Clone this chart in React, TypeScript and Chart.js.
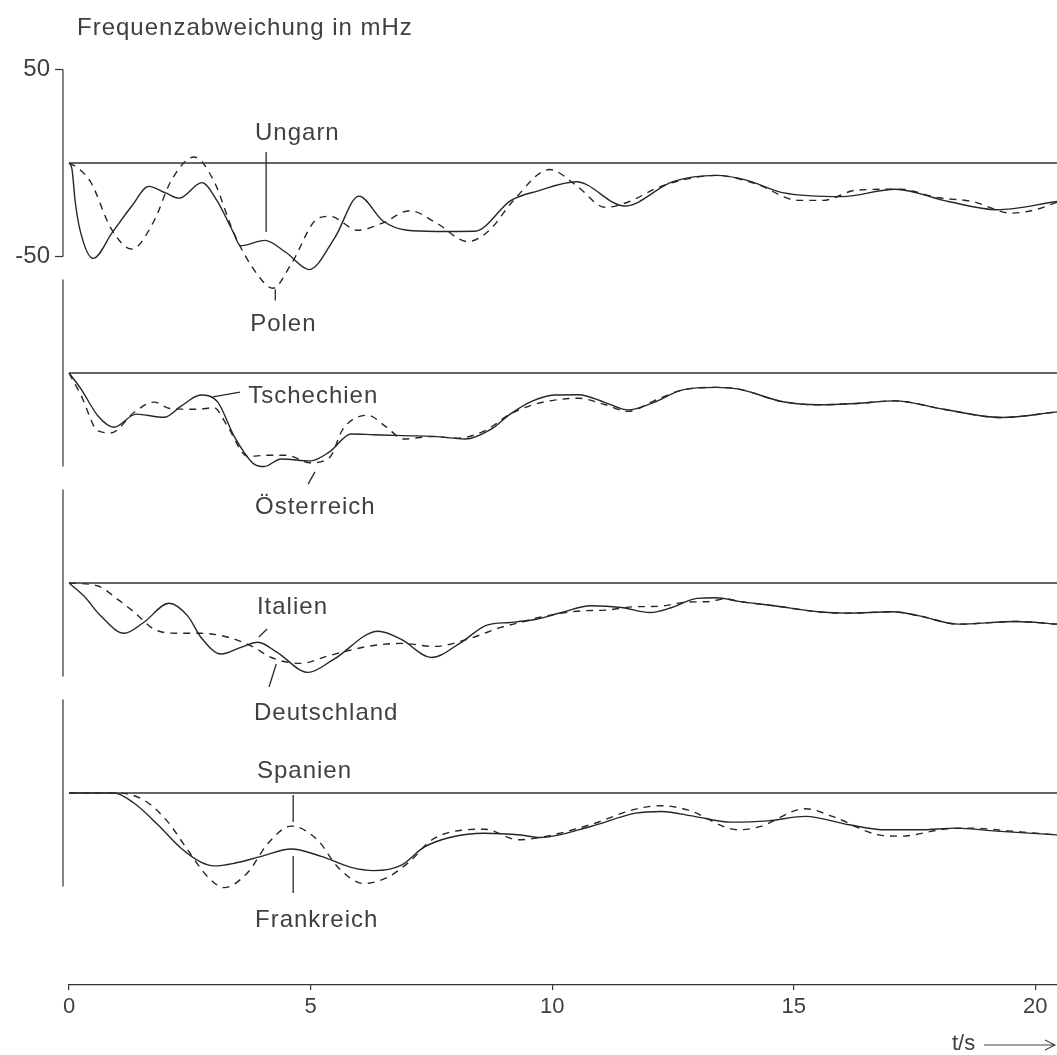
import React, { useEffect, useRef } from 'react';
import { Chart, registerables } from 'chart.js';

Chart.register(...registerables);

// ---------- data ----------
const T_MAX = 20.45;
const xTickValues = [0, 5, 10, 15, 20];
const yTickValues = [-50, 50];

// Panel 1
const ungarnT = [0, 0.06, 0.13, 0.23, 0.5, 0.9, 1.3, 1.65, 2.0, 2.28, 2.75, 3.06, 3.4, 3.55, 4.05, 4.5, 4.97, 5.5, 6.0, 6.5, 7.0, 7.6, 8.4, 9.15, 9.7, 10.5, 11.5, 12.5, 13.4, 14.0, 14.8, 16.0, 17.1, 18.2, 19.2, 20.45];
const ungarnV = [0, -3, -21, -36, -51, -37, -23, -12.5, -16, -18.8, -10.5, -20, -37, -44.3, -41.4, -48, -57, -40, -17.7, -31, -36, -36.6, -36.5, -20, -15, -10, -23, -10, -6.6, -9, -16, -18, -14, -20.6, -25, -20.6];
const polenT = [0, 0.2, 0.46, 0.87, 1.3, 1.76, 2.11, 2.59, 3.0, 3.42, 3.91, 4.22, 4.6, 5.15, 5.4, 5.98, 6.5, 7.05, 7.6, 8.25, 8.7, 9.2, 9.95, 10.5, 11.1, 11.6, 12.2, 12.8, 13.4, 14.2, 15.1, 15.6, 16.3, 17.2, 18.0, 18.7, 19.5, 20.0, 20.45];
const polenV = [0, -3, -10.7, -35, -46, -31, -9.7, 3.2, -9.7, -38, -60, -67, -54, -29.6, -28.5, -36, -32, -25.5, -32, -42, -36, -20, -3.5, -12, -23.7, -20.6, -13, -8.5, -6.6, -11, -20, -20, -14.5, -14, -18.6, -20.6, -26.8, -25, -21];

// Panel 2
const tschechienT = [0, 0.25, 0.6, 0.93, 1.39, 1.97, 2.32, 2.73, 3.08, 3.42, 3.83, 4.04, 4.39, 5.0, 5.4, 5.84, 6.3, 6.9, 7.56, 8.2, 8.74, 9.13, 9.6, 10.05, 10.55, 11.1, 11.57, 12.1, 12.7, 13.4, 13.86, 14.78, 15.5, 16.3, 17.1, 18.1, 19.3, 20.45];
const tschechienV = [0, -8.6, -23, -29, -22, -23.7, -17.7, -11.8, -15.6, -33.9, -48.7, -50, -46, -47, -42, -32.6, -33, -33.5, -33.9, -35.3, -30, -22, -14.9, -11.8, -11.6, -15.8, -19.7, -15.8, -9, -7.7, -8.6, -15.4, -17, -16.3, -14.9, -19.4, -23.8, -20.8];
const oesterreichT = [0, 0.25, 0.6, 0.87, 1.35, 1.76, 2.1, 2.67, 3.0, 3.27, 3.7, 4.1, 4.5, 5.0, 5.4, 5.67, 6.19, 6.55, 6.93, 7.5, 8.05, 8.6, 9.13, 9.6, 10.05, 10.55, 11.1, 11.57, 12.1, 12.7, 13.4, 13.86, 14.78, 15.5, 16.3, 17.1, 18.1, 19.3, 20.45];
const oesterreichV = [0, -12, -31, -32, -21, -15.6, -19, -19.4, -18.5, -28, -44.6, -44, -44, -48, -45, -30, -22.6, -28.5, -35.3, -34, -34.8, -31, -22, -17, -14.5, -13.5, -17, -20.5, -15, -9, -7.7, -8.6, -15.4, -17, -16.3, -14.9, -19.4, -23.8, -20.8];

// Panel 3
const italienT = [0, 0.31, 0.66, 1.14, 1.55, 2.07, 2.46, 2.73, 3.15, 3.56, 3.91, 4.3, 4.95, 5.47, 6.4, 6.87, 7.5, 8.12, 8.65, 9.13, 9.67, 10.2, 10.8, 11.43, 12.03, 12.48, 13.0, 13.4, 13.86, 14.6, 15.5, 16.1, 17.06, 17.6, 18.4, 19.6, 20.45];
const italienV = [0, -7, -17.7, -26.9, -21, -10.8, -17.7, -29, -38, -34.4, -31.7, -37, -47.8, -41, -25.8, -30, -39.8, -31.7, -22.5, -21.1, -19.4, -15.8, -12.2, -13.1, -15.8, -13.1, -8.2, -7.9, -9.8, -12.2, -15.4, -16.1, -15.4, -17.6, -22, -20.6, -22];
const deutschlandT = [0, 0.6, 1.0, 1.35, 1.76, 2.25, 2.73, 3.29, 3.83, 4.12, 4.45, 4.8, 5.36, 6.19, 6.87, 7.56, 8.26, 8.94, 9.36, 9.75, 10.6, 11.1, 11.7, 12.2, 12.8, 13.2, 13.6, 13.86, 14.6, 15.5, 16.1, 17.06, 17.6, 18.4, 19.6, 20.45];
const deutschlandV = [0, -1.6, -8.6, -15.6, -24.7, -26.9, -26.9, -29, -34.4, -39, -42, -43, -39, -33.9, -32.3, -33.9, -30, -23.7, -21, -18.3, -14.9, -14.5, -12.7, -12.5, -10.2, -10, -8.5, -9.8, -12.2, -15.4, -16.1, -15.4, -17.6, -22, -20.6, -22];

// Panel 4
const frankreichT = [0, 0.93, 1.35, 1.84, 2.32, 2.73, 3.0, 3.42, 3.98, 4.6, 5.22, 5.84, 6.31, 6.87, 7.35, 7.9, 8.6, 9.36, 9.75, 10.8, 11.73, 12.26, 12.94, 13.7, 14.47, 15.24, 16.15, 16.9, 17.6, 18.36, 19.2, 20.45];
const frankreichV = [0, 0, -5.5, -17, -29.6, -37, -39, -37.6, -33.9, -30, -33.9, -39.8, -41.5, -38.7, -29, -23.7, -21.5, -22.5, -23.8, -17.9, -10.8, -9.9, -12.5, -15.6, -14.9, -12.5, -17, -19.7, -19.7, -18.8, -20.4, -22.4];
const spanienT = [0, 1.0, 1.55, 2.05, 2.46, 2.88, 3.21, 3.7, 4.12, 4.6, 5.15, 5.57, 6.1, 6.6, 7.08, 7.5, 8.12, 8.6, 9.3, 9.75, 10.8, 11.73, 12.26, 12.8, 13.86, 14.3, 15.24, 15.8, 16.76, 17.2, 18.2, 18.7, 19.5, 20.45];
const spanienV = [0, 0, -3.8, -15.6, -30.6, -45, -50.6, -42.5, -26.9, -17.7, -25.3, -39.8, -48.4, -45, -36, -25.3, -19.9, -19.4, -25, -23.8, -16.9, -8.6, -6.8, -9, -19.7, -18, -8.4, -12.5, -22.4, -23.1, -19.1, -18.8, -20.4, -22.4];

const baselineT = [0, T_MAX];
const baselineV = [0, 0];

// labels (in data units of each panel)
const titleText = 'Frequenzabweichung in mHz';
const xUnitText = 't/s';
const labels = [
  { axis: 'y1', text: 'Ungarn', t: 3.85, v: 12.3 },
  { axis: 'y1', text: 'Polen', t: 3.75, v: -90 },
  { axis: 'y2', text: 'Tschechien', t: 3.71, v: -16 },
  { axis: 'y2', text: 'Österreich', t: 3.85, v: -75.4 },
  { axis: 'y3', text: 'Italien', t: 3.89, v: -16.6 },
  { axis: 'y3', text: 'Deutschland', t: 3.83, v: -73.3 },
  { axis: 'y4', text: 'Spanien', t: 3.89, v: 8 },
  { axis: 'y4', text: 'Frankreich', t: 3.85, v: -71.7 },
];
const pointers = [
  { axis: 'y1', t1: 4.08, v1: 5.9, t2: 4.08, v2: -36.9 },
  { axis: 'y1', t1: 4.27, v1: -67.5, t2: 4.27, v2: -73.5 },
  { axis: 'y2', t1: 2.98, v1: -12.8, t2: 3.54, v2: -10.2 },
  { axis: 'y2', t1: 4.95, v1: -59.4, t2: 5.09, v2: -52.9 },
  { axis: 'y3', t1: 3.93, v1: -28.9, t2: 4.1, v2: -24.6 },
  { axis: 'y3', t1: 4.14, v1: -55.6, t2: 4.29, v2: -43.3 },
  { axis: 'y4', t1: 4.64, v1: -1.1, t2: 4.64, v2: -15.5 },
  { axis: 'y4', t1: 4.64, v1: -33.7, t2: 4.64, v2: -53.5 },
];

const FONT = '"Liberation Sans", Arial, Helvetica, sans-serif';
const LINE = '#262626';
const TEXT = '#404040';

const pts = (T: number[], V: number[]) => T.map((t, i) => ({ x: t, y: V[i] }));

const curve = (label: string, T: number[], V: number[], axis: string, dashed: boolean) => ({
  label,
  data: pts(T, V),
  yAxisID: axis,
  borderColor: LINE,
  borderWidth: 1.4,
  borderDash: dashed ? [7, 6] : [],
  pointRadius: 0,
  fill: false,
  cubicInterpolationMode: 'monotone' as const,
  clip: false as const,
});

const base = (axis: string) => ({
  label: 'base-' + axis,
  data: pts(baselineT, baselineV),
  yAxisID: axis,
  borderColor: '#333',
  borderWidth: 1.3,
  pointRadius: 0,
  fill: false,
  clip: false as const,
});

const PANEL_MAX = 56.15;
const PANEL4_MIN = -102.7;

const annotPlugin = {
  id: 'annot',
  afterDraw(chart: any) {
    const ctx = chart.ctx as CanvasRenderingContext2D;
    const xs = chart.scales.x;
    const area = chart.chartArea;
    ctx.save();
    // vertical axis segments
    ctx.strokeStyle = '#333';
    ctx.lineWidth = 1.2;
    const ax = area.left - 6;
    ['y1', 'y2', 'y3', 'y4'].forEach((id) => {
      const s = chart.scales[id];
      ctx.beginPath();
      ctx.moveTo(ax, s.getPixelForValue(50));
      ctx.lineTo(ax, s.getPixelForValue(-50));
      ctx.stroke();
    });
    // tick marks of first panel
    yTickValues.forEach((v) => {
      const y = chart.scales.y1.getPixelForValue(v);
      ctx.beginPath();
      ctx.moveTo(ax - 8, y);
      ctx.lineTo(ax, y);
      ctx.stroke();
    });
    // pointers
    ctx.strokeStyle = '#2a2a2a';
    ctx.lineWidth = 1.3;
    pointers.forEach((p) => {
      const s = chart.scales[p.axis];
      ctx.beginPath();
      ctx.moveTo(xs.getPixelForValue(p.t1), s.getPixelForValue(p.v1));
      ctx.lineTo(xs.getPixelForValue(p.t2), s.getPixelForValue(p.v2));
      ctx.stroke();
    });
    // labels
    ctx.fillStyle = TEXT;
    ctx.font = `24px ${FONT}`;
    (ctx as any).letterSpacing = '1px';
    ctx.textAlign = 'left';
    ctx.textBaseline = 'alphabetic';
    labels.forEach((l) => {
      const s = chart.scales[l.axis];
      ctx.fillText(l.text, xs.getPixelForValue(l.t), s.getPixelForValue(l.v));
    });
    // title
    ctx.fillText(titleText, area.left + 8, 35);
    // x unit + arrow
    ctx.font = `22px ${FONT}`;
    (ctx as any).letterSpacing = '0px';
    ctx.fillText(xUnitText, 952, 1050);
    ctx.strokeStyle = '#444';
    ctx.lineWidth = 1.1;
    ctx.beginPath();
    ctx.moveTo(984, 1045);
    ctx.lineTo(1054, 1045);
    ctx.moveTo(1045, 1040);
    ctx.lineTo(1055, 1045);
    ctx.lineTo(1045, 1050);
    ctx.stroke();
    ctx.restore();
  },
};

const hiddenY = (weight: number, stackWeight: number, min: number) => ({
  type: 'linear' as const,
  position: 'left' as const,
  stack: 'panels',
  stackWeight,
  weight,
  min,
  max: PANEL_MAX,
  ticks: { display: false },
  grid: { display: false, drawTicks: false },
  border: { display: false },
  afterFit: (s: any) => {
    s.width = 69;
  },
});

export default function App() {
  const ref = useRef<HTMLCanvasElement | null>(null);
  useEffect(() => {
    if (!ref.current) return;
    const chart = new Chart(ref.current, {
      type: 'line',
      data: {
        datasets: [
          base('y1'),
          base('y2'),
          base('y3'),
          base('y4'),
          curve('Ungarn', ungarnT, ungarnV, 'y1', false),
          curve('Polen', polenT, polenV, 'y1', true),
          curve('Tschechien', tschechienT, tschechienV, 'y2', false),
          curve('Österreich', oesterreichT, oesterreichV, 'y2', true),
          curve('Italien', italienT, italienV, 'y3', false),
          curve('Deutschland', deutschlandT, deutschlandV, 'y3', true),
          curve('Frankreich', frankreichT, frankreichV, 'y4', false),
          curve('Spanien', spanienT, spanienV, 'y4', true),
        ] as any,
      },
      options: {
        animation: false,
        responsive: false,
        devicePixelRatio: 1,
        layout: { padding: { top: 58, left: 0, right: 0, bottom: 0 } },
        plugins: { legend: { display: false }, tooltip: { enabled: false }, title: { display: false } },
        elements: { line: { tension: 0.4 } },
        scales: {
          x: {
            type: 'linear',
            position: 'bottom',
            min: 0,
            max: T_MAX,
            afterBuildTicks: (s: any) => {
              s.ticks = xTickValues.map((v) => ({ value: v }));
            },
            afterFit: (s: any) => {
              s.height = 70;
            },
            ticks: {
              autoSkip: false,
              maxRotation: 0,
              padding: 4,
              color: TEXT,
              font: { family: FONT, size: 22 },
            },
            grid: { drawOnChartArea: false, drawTicks: true, tickLength: 5, color: '#333', lineWidth: 1.2 },
            border: { display: true, color: '#333', width: 1.3 },
          },
          y1: {
            type: 'linear',
            position: 'left',
            stack: 'panels',
            stackWeight: 210,
            weight: 4,
            min: -PANEL_MAX,
            max: PANEL_MAX,
            afterBuildTicks: (s: any) => {
              s.ticks = yTickValues.map((v) => ({ value: v }));
            },
            afterFit: (s: any) => {
              s.width = 69;
            },
            ticks: {
              padding: 19,
              color: TEXT,
              font: { family: FONT, size: 24 },
              callback: (v: any) => String(v),
            },
            grid: { display: false, drawTicks: false },
            border: { display: false },
          },
          y2: hiddenY(3, 210, -PANEL_MAX),
          y3: hiddenY(2, 210, -PANEL_MAX),
          y4: hiddenY(1, 297, PANEL4_MIN),
        } as any,
      },
      plugins: [annotPlugin],
    });
    return () => chart.destroy();
  }, []);

  return (
    <div style={{ position: 'fixed', left: 0, top: 0, width: 1057, height: 1055, background: '#fff' }}>
      <canvas ref={ref} width={1057} height={1055} style={{ display: 'block', width: 1057, height: 1055 }} />
    </div>
  );
}
